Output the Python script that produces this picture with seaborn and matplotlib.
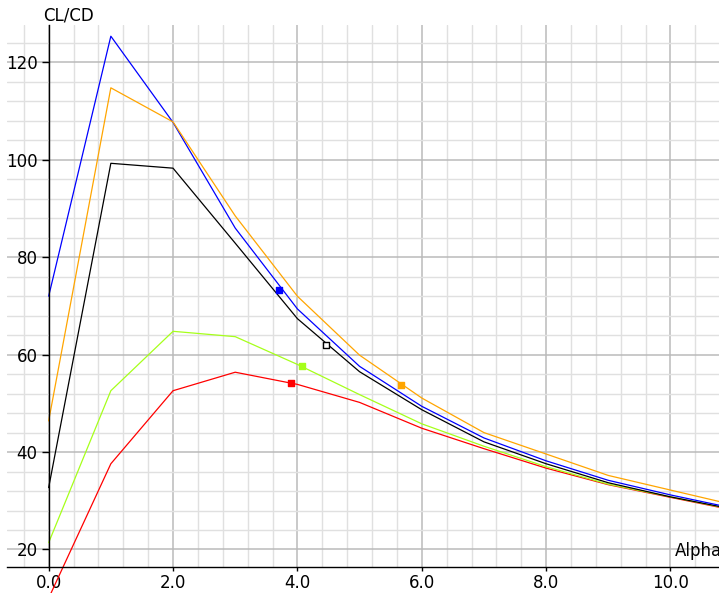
import matplotlib
matplotlib.use("Agg")
import matplotlib.pyplot as plt
from matplotlib.ticker import MultipleLocator, FormatStrFormatter
import seaborn as sns
import pandas as pd

alpha = [0, 1, 2, 3, 4, 5, 6, 7, 8, 9, 10, 11]
blue_vals = [72.0, 125.4, 107.7, 86.0, 69.4, 57.6, 49.4, 42.9, 38.2, 34.2, 31.2, 28.5]
orange_vals = [46.4, 114.8, 107.8, 88.5, 72.0, 59.9, 51.1, 44.0, 39.6, 35.2, 32.2, 29.2]
black_vals = [32.7, 99.3, 98.3, 82.9, 67.4, 56.5, 48.7, 42.1, 37.6, 33.7, 30.8, 28.3]
green_vals = [21.4, 52.6, 64.8, 63.7, 58.0, 51.8, 45.8, 41.2, 37.0, 33.4, 30.8, 28.2]
red_vals = [10.0, 37.6, 52.6, 56.4, 53.9, 50.2, 44.9, 40.7, 36.7, 33.3, 30.7, 28.1]

series_names = ["red", "green", "black", "blue", "orange"]
series_colors = ["#ff0000", "#a6ff1a", "#000000", "#0000ff", "#ffa500"]

marker_alpha = [3.89, 4.07, 4.46, 3.71, 5.66]
marker_vals = [54.2, 57.6, 61.9, 73.2, 53.8]

x_ticks = [0, 2, 4, 6, 8, 10]
y_ticks = [20, 40, 60, 80, 100, 120]

sns.set_style("white")
plt.rcParams["font.family"] = ["DejaVu Sans"]
plt.rcParams["text.color"] = "black"
plt.rcParams["xtick.color"] = "black"
plt.rcParams["ytick.color"] = "black"

rows = []
for name, vals in zip(series_names, [red_vals, green_vals, black_vals, blue_vals, orange_vals]):
    for a, v in zip(alpha, vals):
        rows.append({"alpha": a, "cl_cd": v, "series": name})
df = pd.DataFrame(rows)
mdf = pd.DataFrame({"alpha": marker_alpha, "cl_cd": marker_vals, "series": series_names})
palette = dict(zip(series_names, series_colors))

fig = plt.figure(figsize=(7.19, 5.93), dpi=100)
W, H = 719, 593
left_px, right_px, top_px, bot_px = 7, 719, 25, 567
ax = fig.add_axes([left_px / W, 1 - bot_px / H, (right_px - left_px) / W, (bot_px - top_px) / H])

sns.lineplot(data=df, x="alpha", y="cl_cd", hue="series", palette=palette,
             estimator=None, sort=False, linewidth=0.9, legend=False, ax=ax)
for ln in ax.lines:
    ln.set_clip_on(False)

fills = ["#ff0000", "#a6ff1a", "#ffffff", "#0000ff", "#ffa500"]
for i, name in enumerate(series_names):
    sub = mdf[mdf["series"] == name]
    sns.scatterplot(data=sub, x="alpha", y="cl_cd", marker="s", s=24,
                    color=fills[i], edgecolor=series_colors[i], linewidth=1.0,
                    legend=False, ax=ax, zorder=5)

ax.set_xlim(-0.67, 10.78)
ax.set_ylim(16.4, 127.7)
ax.set_xticks(x_ticks)
ax.set_yticks(y_ticks)
ax.xaxis.set_minor_locator(MultipleLocator(0.4))
ax.yaxis.set_minor_locator(MultipleLocator(4))
ax.xaxis.set_major_formatter(FormatStrFormatter("%.1f"))
ax.grid(which="major", color="#bababa", linewidth=1.1, zorder=0)
ax.grid(which="minor", color="#e0e0e0", linewidth=1.0, zorder=0)
ax.set_axisbelow(True)

for s in ["top", "right"]:
    ax.spines[s].set_visible(False)
ax.spines["left"].set_position(("data", 0))
ax.spines["left"].set_color("black")
ax.spines["bottom"].set_color("black")
ax.spines["left"].set_linewidth(1.0)
ax.spines["bottom"].set_linewidth(1.0)

ax.tick_params(axis="y", which="major", length=5, width=1, color="black", labelcolor="black", labelsize=12, pad=3, left=True)
ax.tick_params(axis="x", which="major", length=3, width=1, color="black", labelcolor="black", labelsize=12, pad=2, bottom=True)
ax.tick_params(which="minor", length=0)
ax.set_xlabel("")
ax.set_ylabel("")

fig.text(43 / W, 1 - 20 / H, "CL/CD", fontsize=12, color="black", ha="left", va="baseline")
fig.text(675 / W, 1 - 556 / H, "Alpha", fontsize=12, color="black", ha="left", va="baseline")

fig.savefig("out.png", dpi=100)
